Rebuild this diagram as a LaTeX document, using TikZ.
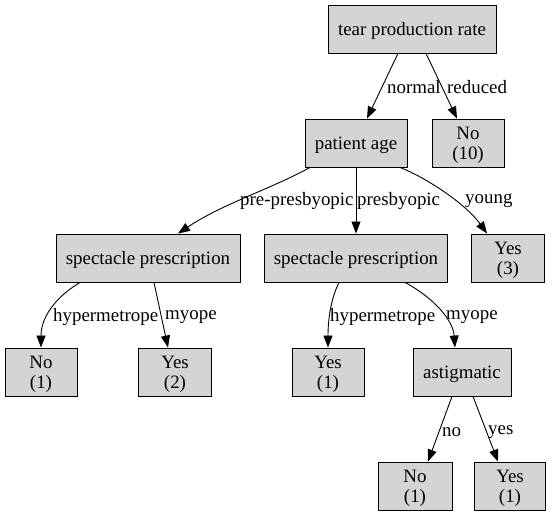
\documentclass[tikz,border=0pt]{standalone}
\usepackage{fontspec}
\setmainfont{Liberation Serif}
\usetikzlibrary{arrows.meta}
\begin{document}
\begin{tikzpicture}[x=1pt,y=1pt,
  box/.style={draw=black, fill=black!17, line width=0.9pt, minimum height=48pt, inner sep=0pt, text depth=0pt, align=center, font=\fontsize{18.9pt}{20pt}\selectfont},
  edge/.style={line width=0.9pt, -{Triangle[length=12pt,width=9pt]}},
  lbl/.style={anchor=west, inner sep=0pt, font=\fontsize{18.9pt}{20pt}\selectfont}]
\useasboundingbox (0,0) rectangle (552,517);
% nodes
\node[box, minimum width=168pt] (tpr) at (412,488) {tear production rate};
\node[box, minimum width=102pt] (age) at (356,374) {patient age};
\node[box, minimum width=72pt] (no10) at (468,374) {No\\(10)};
\node[box, minimum width=184pt] (spL) at (148,259) {spectacle prescription};
\node[box, minimum width=183pt] (spM) at (356,259) {spectacle prescription};
\node[box, minimum width=73pt] (yes3) at (508,259) {Yes\\(3)};
\node[box, minimum width=72pt] (no1) at (41,145) {No\\(1)};
\node[box, minimum width=73pt] (yes2) at (175,145) {Yes\\(2)};
\node[box, minimum width=72pt] (yes1) at (328,145) {Yes\\(1)};
\node[box, minimum width=98pt] (ast) at (462,145) {astigmatic};
\node[box, minimum width=74pt] (no1b) at (415,31) {No\\(1)};
\node[box, minimum width=71pt] (yes1b) at (510,31) {Yes\\(1)};
% edges
\draw[edge] ([xshift=-14pt]tpr.south) -- ([xshift=11pt]age.north);
\draw[edge] ([xshift=14pt]tpr.south) -- ([xshift=-11pt]no10.north);
\draw[edge] ([xshift=-46pt]age.south) .. controls +(-40,-22) and +(45,30) .. ([xshift=30pt]spL.north);
\draw[edge] (age.south) -- (spM.north);
\draw[edge] ([xshift=44pt]age.south) .. controls +(30,-12) and +(-20,28) .. ([xshift=-21pt]yes3.north);
\draw[edge] ([xshift=-68pt]spL.south) .. controls +(-25,-15) and +(0,30) .. (no1.north);
\draw[edge] ([xshift=6pt]spL.south) -- ([xshift=-7pt]yes2.north);
\draw[edge] ([xshift=-17pt]spM.south) .. controls +(-9,-18) and +(0,25) .. (yes1.north);
\draw[edge] ([xshift=49pt]spM.south) .. controls +(28,-15) and +(-2,28) .. ([xshift=-7pt]ast.north);
\draw[edge] ([xshift=-10pt]ast.south) -- ([xshift=13pt]no1b.north);
\draw[edge] ([xshift=11pt]ast.south) -- ([xshift=-12pt]yes1b.north);
% labels
\node[lbl] (l1) at (387,430) {normal};
\node[lbl] (l2) at (447,430) {reduced};
\node[lbl] (l3) at (240,316) {pre-presbyopic};
\node[lbl] (l4) at (357,316) {presbyopic};
\node[lbl] (l5) at (465,316) {young};
\node[lbl] (l6) at (53,200) {hypermetrope};
\node[lbl] (l7) at (165,200) {myope};
\node[lbl] (l8) at (330,200) {hypermetrope};
\node[lbl] (l9) at (446,200) {myope};
\node[lbl] (l10) at (442,85) {no};
\node[lbl] (l11) at (488,85) {yes};
\end{tikzpicture}
\end{document}
